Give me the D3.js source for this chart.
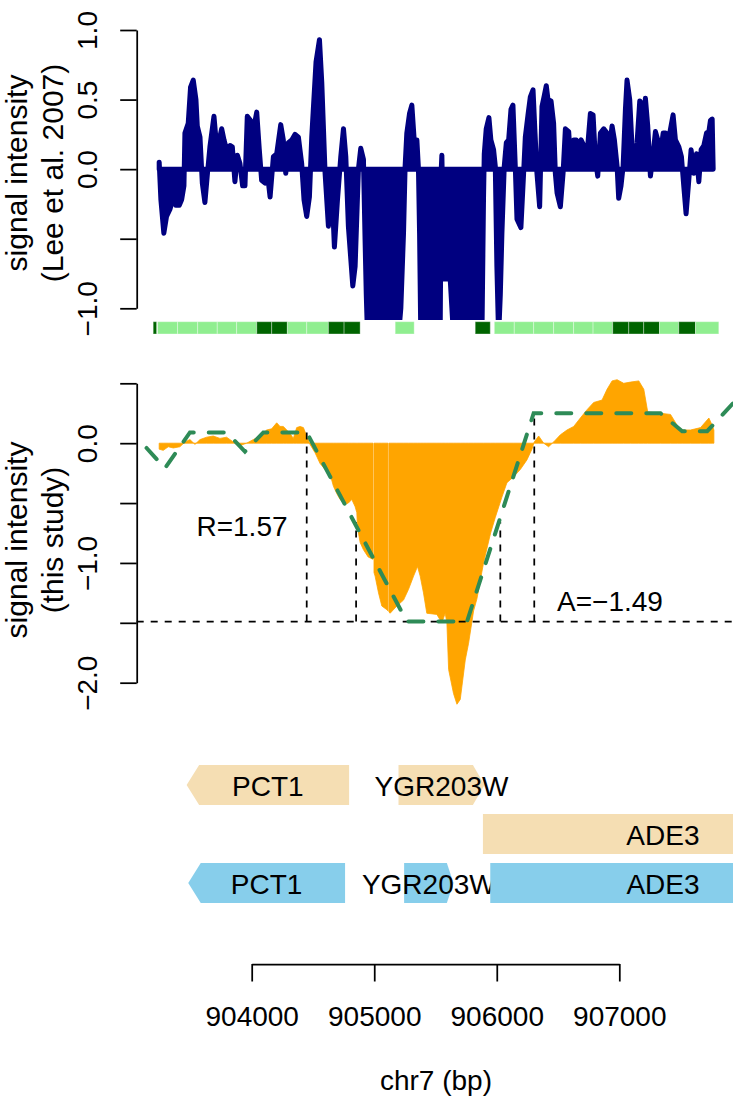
<!DOCTYPE html>
<html lang="en">
<head>
  <meta charset="UTF-8">
  <title>chr7 signal intensity</title>
  <style>
    body {
      margin: 0;
      background: #ffffff;
    }
    svg {
      display: block;
      font-family: "Liberation Sans", Arial, Helvetica, sans-serif;
    }
  </style>
</head>
<body>
  <svg id="chart" width="733" height="1102"></svg>

  <script src="https://d3js.org/d3.v7.min.js"></script>
  <script>
    // top panel: Lee et al. 2007 signal (bp, value)
    const topPos = [903245,903259,903283,903305,903332,903360,903381,903409,903428,903447,903455,903482,903501,903523,903545,903556,903578,903597,903618,903637,903659,903692,903714,903735,903755,903774,903795,903823,903842,903863,903883,903904,903926,903945,903964,903991,904013,904041,904062,904081,904109,904128,904150,904177,904204,904237,904258,904278,904299,904327,904354,904381,904408,904427,904449,904471,904490,904525,904553,904572,904599,904626,904653,904675,904700,904727,904749,904768,904789,904825,904844,904871,904890,904912,904925,904935,904945,905198,905217,905239,905252,905266,905288,905307,905326,905348,905361,905370,905380,905538,905547,905552,905560,905571,905620,905647,905879,905892,905898,905914,905936,905952,905974,905988,906001,906015,906029,906042,906061,906078,906097,906116,906132,906151,906165,906197,906219,906233,906255,906274,906296,906312,906328,906350,906369,906388,906404,906418,906443,906464,906478,906492,906519,906541,906560,906587,906606,906628,906650,906669,906688,906715,906737,906764,906786,906805,906824,906846,906873,906900,906914,906941,906960,906982,906995,907014,907031,907050,907063,907085,907104,907123,907145,907167,907186,907200,907213,907232,907254,907276,907295,907314,907336,907358,907377,907390,907412,907439,907458,907486,907507,907526,907545,907567,907586,907608,907630,907649,907668,907690,907712,907731,907744,907758,907766];
    const topVal = [0.05,-0.22,-0.46,-0.34,-0.29,-0.21,-0.26,-0.26,-0.22,-0.12,0.26,0.33,0.59,0.64,0.50,0.31,0.23,-0.10,-0.24,-0.05,0.16,0.38,0.16,0.21,0.29,0.21,0.14,0.17,0.16,-0.09,0.10,0.04,-0.12,-0.12,0.38,0.35,0.28,0.41,0.14,-0.08,-0.10,-0.03,-0.20,0.09,0.11,0.32,0.21,-0.03,0.19,0.21,0.25,0.23,0.04,-0.22,-0.34,-0.20,0.23,0.77,0.93,0.62,-0.03,-0.41,-0.10,-0.56,-0.22,0.09,0.29,0.09,-0.41,-0.84,-0.70,0.00,0.15,0.07,-0.50,-0.90,-1.20,-1.20,-1.00,-0.46,0.02,0.26,0.40,0.46,0.21,0.21,0.00,-0.46,-1.20,-1.20,0.00,0.10,-0.30,-0.79,-0.79,-1.20,-1.20,-0.20,0.11,0.29,0.37,0.21,0.14,0.02,-0.70,-1.20,-0.90,-0.46,0.02,0.19,0.21,0.43,0.46,0.02,-0.36,-0.42,-0.03,0.23,0.39,0.52,0.57,0.26,-0.03,-0.27,0.45,0.53,0.60,0.50,0.49,0.33,-0.03,-0.17,-0.27,-0.03,0.29,0.27,0.00,0.21,0.21,0.16,0.21,0.16,0.11,0.40,0.39,0.07,-0.05,0.26,0.29,0.26,0.11,0.31,0.21,0.02,-0.21,-0.12,0.02,0.43,0.64,0.50,0.16,0.00,0.19,0.49,0.47,0.19,0.51,0.31,-0.05,0.11,0.27,0.21,0.11,0.26,0.26,0.11,0.26,0.39,0.21,0.16,0.09,-0.12,-0.32,-0.08,0.14,-0.03,0.11,-0.09,0.14,0.17,0.26,0.27,0.35,0.36,0.00];

    // bottom panel: this study (null = gap in probes)
    const sigPos = [903245,903278,903319,903360,903414,903455,903496,903537,903578,903632,903686,903741,903795,903850,903904,903959,904013,904068,904122,904163,904204,904231,904258,904286,904313,904340,904367,904395,904422,904449,904476,904517,904558,904599,904640,904667,904694,904721,904762,904789,904817,904844,904858,904863,904885,904912,904950,904990,904994,904998,905007,905035,905062,905103,905112,905116,905120,905130,905184,905239,905280,905321,905353,905375,905402,905429,905511,905552,905579,905593,905607,905647,905675,905702,905743,905770,905811,905838,905892,905950,905988,906042,906083,906138,906192,906246,906287,906306,906342,906383,906423,906464,906519,906573,906628,906682,906737,906791,906859,906900,906941,906982,907036,907091,907159,907200,907232,907336,907418,907472,907513,907581,907663,907731,907758,907772];
    const sigVal = [-0.05,-0.06,-0.03,-0.04,-0.03,0.01,0.03,-0.01,0.03,0.05,0.06,0.04,0.05,0.01,-0.02,0.00,0.03,0.06,0.11,0.12,0.17,0.14,0.14,0.11,0.08,0.04,0.13,0.14,0.13,0.06,-0.01,-0.08,-0.17,-0.22,-0.26,-0.36,-0.42,-0.47,-0.51,-0.50,-0.47,-0.53,-0.58,-0.70,-0.83,-0.89,-0.95,-0.97,null,-1.08,-1.11,-1.25,-1.36,-1.39,-1.40,null,-1.41,-1.42,-1.36,-1.31,-1.22,-1.11,-1.03,-1.11,-1.25,-1.42,-1.43,-1.50,-1.42,-1.50,-1.89,-2.09,-2.18,-2.14,-1.81,-1.67,-1.40,-1.30,-1.00,-0.75,-0.62,-0.45,-0.33,-0.28,-0.22,-0.14,-0.05,0.01,0.06,0.00,-0.03,0.01,0.07,0.11,0.14,0.21,0.28,0.34,0.36,0.45,0.52,0.53,0.50,0.51,0.52,0.45,0.26,0.25,0.24,0.15,0.11,0.11,0.13,0.21,0.15,0.11];

    // piecewise fit (green dashed)
    const fitPos = [903142,903292,903496,903796,903945,904095,904449,905266,905757,906301,907336,907513,907717,908153];
    const fitVal = [-0.04,-0.21,0.09,0.09,-0.07,0.09,0.09,-1.49,-1.49,0.25,0.25,0.10,0.10,0.58];

    const amplitude = -1.49;
    const markPos = [904449, 904852, 906029, 906306];
    const markTop = [0.09, -0.66, -0.66, 0.25];

    // strip of tiles under the top panel
    const stripStart = [903196,903232,903395,903559,903719,903877,904041,904163,904291,904449,904626,904754,905171,905824,905980,906143,906301,906464,906627,906786,906946,907077,907199,907328,907485,907622];
    const stripEnd   = [903224,903395,903559,903719,903877,904041,904163,904291,904449,904626,904754,904885,905326,905947,906143,906301,906464,906627,906786,906946,907077,907199,907328,907485,907622,907812];
    const stripType  = ["D","L","L","L","L","L","D","D","L","L","D","D","L","D","L","L","L","L","L","L","D","D","D","L","D","L"];

    // genes, two annotation sets
    const geneNames = ["PCT1", "YGR203W", "ADE3"];
    const geneStrand = [-1, 1, 1];
    const tanStart = [903469, 905198, 905887];
    const tanEnd = [904795, 905900, 908825];
    const tanRow = [0, 0, 1];
    const blueStart = [903482, 905244, 905947];
    const blueEnd = [904762, 905647, 908766];
    const blueRow = [2, 2, 2];

    const topTicks = [-1, -0.5, 0, 0.5, 1];
    const topTickLabels = ["\u22121.0", "", "0.0", "0.5", "1.0"];
    const botTicks = [-2, -1.5, -1, -0.5, 0, 0.5];
    const botTickLabels = ["\u22122.0", "", "\u22121.0", "", "0.0", ""];
    const xTicks = [904000, 905000, 906000, 907000];

    const svg = d3.select("#chart");
    const font = 28;

    const x = d3.scaleLinear().domain([904000, 907000]).range([251.7, 619.3]);
    const yTop = d3.scaleLinear().domain([-1, 1]).range([308.3, 30]);
    const yBot = d3.scaleLinear().domain([-2, 0.5]).range([682.7, 383.3]);
    const axisX = 136.7;

    const defs = svg.append("defs");
    defs.append("clipPath").attr("id", "clipTop")
      .append("rect").attr("x", axisX).attr("y", 18).attr("width", 620).attr("height", 302);
    defs.append("clipPath").attr("id", "clipBot")
      .append("rect").attr("x", axisX).attr("y", 365).attr("width", 620).attr("height", 360);

    // ---- top panel
    const topData = topPos.map((p, i) => [p, topVal[i]]);
    svg.append("path")
      .datum(topData)
      .attr("clip-path", "url(#clipTop)")
      .attr("fill", "#000080")
      .attr("stroke", "#000080")
      .attr("stroke-width", 5)
      .attr("stroke-linejoin", "round")
      .attr("d", d3.area().x(d => x(d[0])).y0(yTop(0)).y1(d => yTop(d[1])));

    svg.append("g")
      .selectAll("rect")
      .data(stripStart.map((s, i) => ({ s, e: stripEnd[i], t: stripType[i] })))
      .join("rect")
      .attr("x", d => x(d.s))
      .attr("width", d => x(d.e) - x(d.s))
      .attr("y", 321.7)
      .attr("height", 12.3)
      .attr("fill", d => d.t === "D" ? "#006400" : "#90EE90")
      .attr("stroke", "rgba(255,255,255,0.35)")
      .attr("stroke-width", 1);

    const gTop = svg.append("g")
      .attr("transform", `translate(${axisX},0)`)
      .call(d3.axisLeft(yTop).tickValues(topTicks)
        .tickFormat((d, i) => topTickLabels[i]).tickSize(16.5).tickSizeOuter(0));

    // ---- bottom panel
    const sigData = sigPos.map((p, i) => [p, sigVal[i]]);
    svg.append("path")
      .datum(sigData)
      .attr("clip-path", "url(#clipBot)")
      .attr("fill", "#FFA500")
      .attr("stroke", "#FFA500")
      .attr("stroke-width", 0.8)
      .attr("d", d3.area().defined(d => d[1] !== null)
        .x(d => x(d[0])).y0(yBot(0)).y1(d => yBot(d[1])));

    const dashed = { stroke: "#000", width: 1.75, dash: "7,7" };

    svg.append("line")
      .attr("x1", axisX).attr("x2", 740)
      .attr("y1", yBot(amplitude)).attr("y2", yBot(amplitude))
      .attr("stroke", dashed.stroke).attr("stroke-width", dashed.width)
      .attr("stroke-dasharray", dashed.dash);

    svg.append("g")
      .selectAll("line")
      .data(markPos.map((p, i) => [p, markTop[i]]))
      .join("line")
      .attr("x1", d => x(d[0])).attr("x2", d => x(d[0]))
      .attr("y1", yBot(amplitude)).attr("y2", d => yBot(d[1]))
      .attr("stroke", dashed.stroke).attr("stroke-width", dashed.width)
      .attr("stroke-dasharray", dashed.dash);

    const fitData = fitPos.map((p, i) => [p, fitVal[i]]);
    svg.append("path")
      .datum(fitData)
      .attr("fill", "none")
      .attr("stroke", "#2E8B57")
      .attr("stroke-width", 4)
      .attr("stroke-linecap", "round")
      .attr("stroke-dasharray", "15,15")
      .attr("d", d3.line().x(d => x(d[0])).y(d => yBot(d[1])));

    svg.append("text")
      .attr("x", x(903921)).attr("y", 536)
      .attr("text-anchor", "middle")
      .attr("font-size", font)
      .text("R=1.57");

    svg.append("text")
      .attr("x", x(906492)).attr("y", 610.7)
      .attr("font-size", font)
      .text("A=\u22121.49");

    const gBot = svg.append("g")
      .attr("transform", `translate(${axisX},0)`)
      .call(d3.axisLeft(yBot).tickValues(botTicks)
        .tickFormat((d, i) => botTickLabels[i]).tickSize(16.5).tickSizeOuter(0));

    [gTop, gBot].forEach(g => {
      g.attr("font-size", font).attr("font-family", null);
      g.selectAll("path, line").attr("stroke-width", 1.75);
      g.selectAll("text")
        .attr("x", 0)
        .attr("dy", null)
        .attr("y", -39.7)
        .attr("transform", "rotate(-90)")
        .attr("text-anchor", "middle")
        .attr("fill", "#000");
    });

    // y axis titles
    const yTitles = [
      { c: 173, lines: ["signal intensity", "(Lee et al. 2007)"] },
      { c: 540, lines: ["signal intensity", "(this study)"] }
    ];
    yTitles.forEach(t => {
      t.lines.forEach((s, i) => {
        svg.append("text")
          .attr("transform", `translate(${27 + i * 36},${t.c}) rotate(-90)`)
          .attr("text-anchor", "middle")
          .attr("font-size", 30)
          .text(s);
      });
    });

    // ---- gene annotations
    const rowY = [785, 834, 883];
    const rowH = 40;

    function genePath(s, e, strand, row) {
      const x0 = x(s), x1 = x(e);
      const head = Math.min(12.5, 0.135 * (x1 - x0));
      const top = rowY[row] - rowH / 2, bot = rowY[row] + rowH / 2, mid = rowY[row];
      if (strand < 0) {
        return `M${x0},${mid}L${x0 + head},${top}L${x1},${top}L${x1},${bot}L${x0 + head},${bot}Z`;
      }
      return `M${x0},${top}L${x1 - head},${top}L${x1},${mid}L${x1 - head},${bot}L${x0},${bot}Z`;
    }

    function drawGenes(starts, ends, rows, color) {
      const g = svg.append("g");
      geneNames.forEach((name, i) => {
        g.append("path")
          .attr("d", genePath(starts[i], ends[i], geneStrand[i], rows[i]))
          .attr("fill", color);
        g.append("text")
          .attr("x", x((starts[i] + ends[i]) / 2))
          .attr("y", rowY[rows[i]] + 10.5)
          .attr("text-anchor", "middle")
          .attr("font-size", font)
          .text(name);
      });
    }

    drawGenes(tanStart, tanEnd, tanRow, "#F5DEB3");
    drawGenes(blueStart, blueEnd, blueRow, "#87CEEB");

    // ---- x axis
    const gx = svg.append("g")
      .attr("transform", "translate(0,964)")
      .call(d3.axisBottom(x).tickValues(xTicks).tickFormat(d3.format("d"))
        .tickSize(17.5).tickSizeOuter(0));
    gx.attr("font-size", font).attr("font-family", null);
    gx.selectAll("path, line").attr("stroke-width", 1.75);
    gx.selectAll("text").attr("y", 62).attr("dy", null).attr("fill", "#000");

    svg.append("text")
      .attr("x", 436).attr("y", 1090)
      .attr("text-anchor", "middle")
      .attr("font-size", font)
      .text("chr7 (bp)");
  </script>
</body>
</html>
